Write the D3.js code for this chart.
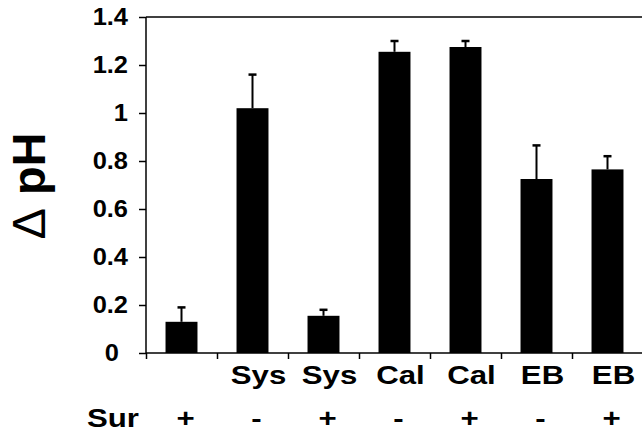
<!DOCTYPE html>
<html lang="en">
<head>
<meta charset="utf-8">
<title>Delta pH</title>
<script src="https://d3js.org/d3.v7.min.js"></script>
<style>
  body { margin: 0; background: #fff; }
  text { font-family: "Liberation Sans", Arial, sans-serif; font-weight: bold; fill: #000; }
  .axis path, .axis line { stroke: #000; stroke-width: 1.5; }
</style>
</head>
<body>
<script>
// data
var drugs = ["", "Sys", "Sys", "Cal", "Cal", "EB", "EB"];
var sur = ["+", "-", "+", "-", "+", "-", "+"];
var means = [0.13, 1.02, 0.155, 1.255, 1.275, 0.725, 0.765];
var errs = [0.06, 0.14, 0.025, 0.045, 0.025, 0.14, 0.055];
var yTicks = [0, 0.2, 0.4, 0.6, 0.8, 1, 1.2, 1.4];

var w = 642, h = 431;
var plotLeft = 146, plotRight = 643, plotTop = 17, plotBottom = 353;

var svg = d3.select("body").append("svg")
  .attr("width", w).attr("height", h);

var idx = d3.range(means.length);

var x = d3.scaleBand()
  .domain(idx)
  .range([plotLeft, plotRight])
  .paddingInner(0.55)
  .paddingOuter(0.275);

var y = d3.scaleLinear()
  .domain([0, 1.4])
  .range([plotBottom, plotTop]);

function cx(i) { return x(i) + x.bandwidth() / 2; }

// top frame line
svg.append("line")
  .attr("x1", plotLeft).attr("x2", w)
  .attr("y1", y(1.4)).attr("y2", y(1.4))
  .attr("stroke", "#000").attr("stroke-width", 1.5);

// bars
svg.selectAll("rect.bar")
  .data(means)
  .enter().append("rect")
  .attr("class", "bar")
  .attr("x", function(d, i) { return x(i); })
  .attr("y", function(d) { return y(d); })
  .attr("width", x.bandwidth())
  .attr("height", function(d) { return y(0) - y(d); })
  .attr("fill", "#000");

// error bars
var eb = svg.selectAll("g.err")
  .data(means)
  .enter().append("g")
  .attr("class", "err");

eb.append("line")
  .attr("x1", function(d, i) { return cx(i); })
  .attr("x2", function(d, i) { return cx(i); })
  .attr("y1", function(d) { return y(d); })
  .attr("y2", function(d, i) { return y(d + errs[i]); })
  .attr("stroke", "#000").attr("stroke-width", 2);

eb.append("line")
  .attr("x1", function(d, i) { return cx(i) - 4; })
  .attr("x2", function(d, i) { return cx(i) + 4; })
  .attr("y1", function(d, i) { return y(d + errs[i]); })
  .attr("y2", function(d, i) { return y(d + errs[i]); })
  .attr("stroke", "#000").attr("stroke-width", 2.5);

// y axis
var yAxis = d3.axisLeft(y)
  .tickValues(yTicks)
  .tickSize(7)
  .tickPadding(11)
  .tickFormat(function(d) { return d3.format("")(d); });

svg.append("g")
  .attr("class", "axis")
  .attr("transform", "translate(" + plotLeft + ",0)")
  .call(yAxis)
  .call(function(g) { g.select(".domain").attr("d", "M0," + y(1.4) + "V" + y(0)); })
  .selectAll("text")
  .attr("font-size", null)
  .attr("font-family", null)
  .style("font-size", "24px")
  .attr("transform", "scale(1.06,1)")
  .attr("x", function(d) { return (d === 0 ? -27 : -18) / 1.06; });

// x axis: ticks between the bars
var xLin = d3.scaleLinear().domain([0, means.length]).range([plotLeft, plotRight]);
var xAxis = d3.axisBottom(xLin)
  .tickValues(d3.range(means.length + 1))
  .tickSize(6)
  .tickFormat("");

svg.append("g")
  .attr("class", "axis")
  .attr("transform", "translate(0," + y(0) + ")")
  .call(xAxis)
  .call(function(g) { g.select(".domain").attr("d", "M" + plotLeft + ",0H" + w); });

// category labels
svg.selectAll("text.drug")
  .data(drugs)
  .enter().append("text")
  .attr("class", "drug")
  .attr("transform", function(d, i) { return "translate(" + (cx(i) + 6) + ",384) scale(1.2,1)"; })
  .attr("text-anchor", "middle")
  .style("font-size", "26px")
  .text(function(d) { return d; });

svg.selectAll("text.sur")
  .data(sur)
  .enter().append("text")
  .attr("class", "sur")
  .attr("transform", function(d, i) { return "translate(" + (cx(i) + 4) + ",427) scale(1.2,1)"; })
  .attr("text-anchor", "middle")
  .style("font-size", "26px")
  .text(function(d) { return d; });

svg.append("text")
  .attr("transform", "translate(113,427) scale(1.2,1)")
  .attr("text-anchor", "middle")
  .style("font-size", "26px")
  .text("Sur");

// y title
var yt = svg.append("text")
  .attr("transform", "translate(45,186) rotate(-90)")
  .attr("text-anchor", "middle")
  .style("font-size", "47px");
yt.append("tspan").style("font-weight", "normal").text("\u0394");
yt.append("tspan").text(" pH");
</script>
</body>
</html>
